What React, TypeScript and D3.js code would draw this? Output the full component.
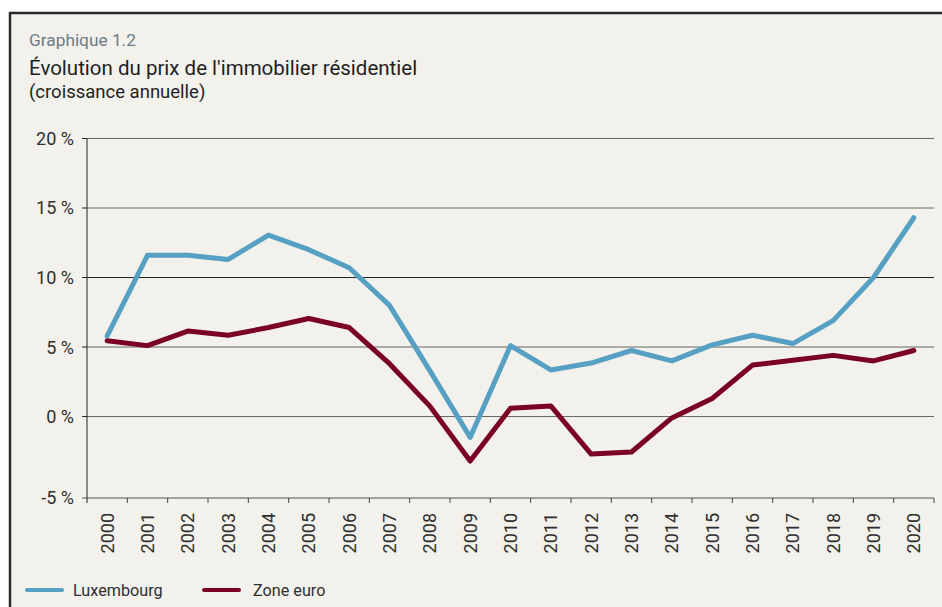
import React from "react";
import * as d3 from "d3";

const years = ["2000","2001","2002","2003","2004","2005","2006","2007","2008","2009","2010","2011","2012","2013","2014","2015","2016","2017","2018","2019","2020"];
const luxembourg = [5.8, 11.6, 11.6, 11.3, 13.05, 12.0, 10.7, 8.0, 3.3, -1.5, 5.1, 3.35, 3.85, 4.75, 4.0, 5.15, 5.85, 5.25, 6.9, 10.0, 14.3];
const zoneEuro = [5.45, 5.1, 6.15, 5.85, 6.4, 7.05, 6.4, 3.8, 0.75, -3.2, 0.6, 0.76, -2.7, -2.55, -0.1, 1.3, 3.7, 4.05, 4.4, 4.0, 4.75];
const yTicks = [20, 15, 10, 5, 0];
const yMinLabel = -5;
const seriesNames = ["Luxembourg", "Zone euro"];
const seriesColors = ["#56a0c3", "#7b0025"];

const W = 942, H = 607;
const FONT = "Roboto, 'DejaVu Sans', sans-serif";

export default function App() {
  const left = 87, right = 934, top = 138.5, bottom = 498;
  const x = d3.scaleBand<string>().domain(years).range([left, right]).paddingInner(0).paddingOuter(0);
  const y = d3.scaleLinear().domain([-5.86, 20]).range([bottom, top]);
  const cx = (i: number) => (x(years[i]) as number) + x.bandwidth() / 2;
  const line = d3.line<number>().x((_, i) => cx(i)).y((d) => y(d));
  const series = [luxembourg, zoneEuro];
  const legendPos = [{ lx: 27, tx: 73 }, { lx: 204, tx: 253 }];

  return (
    <svg width={W} height={H} style={{ position: "absolute", left: 0, top: 0 }} fontFamily={FONT}>
      <rect x={0} y={0} width={W} height={H} fill="#ffffff" />
      <rect x={10} y={13} width={W - 10} height={H - 13} fill="#f2f1eb" />
      <line x1={9} x2={W} y1={13} y2={13} stroke="#2a2a2a" strokeWidth={2.5} />
      <line x1={10} x2={10} y1={12} y2={H} stroke="#2a2a2a" strokeWidth={2.5} />

      <text x={29} y={46} fontSize={17.3} fill="#6e7b86">Graphique 1.2</text>
      <text x={29} y={75} fontSize={20.5} fill="#1f1f1f">Évolution du prix de l'immobilier résidentiel</text>
      <text x={29} y={98} fontSize={18.5} fill="#1f1f1f">(croissance annuelle)</text>

      {yTicks.map((t) => (
        <g key={t}>
          <line x1={left} x2={right} y1={y(t)} y2={y(t)} stroke={t === 10 ? "#222" : "#666"} strokeWidth={1} />
          <line x1={left - 5} x2={left} y1={y(t)} y2={y(t)} stroke="#222" />
          <text x={74} y={y(t)} dy="0.36em" textAnchor="end" fontSize={18} fill="#2e2e2e">{`${t} %`}</text>
        </g>
      ))}
      <text x={74} y={bottom} dy="0.36em" textAnchor="end" fontSize={18} fill="#2e2e2e">{`${yMinLabel} %`}</text>
      <line x1={left - 5} x2={right} y1={bottom} y2={bottom} stroke="#555" strokeWidth={1} />
      <line x1={left} x2={left} y1={top} y2={bottom + 5} stroke="#222" strokeWidth={1} />
      {years.map((yr, i) => (
        <g key={yr}>
          <line x1={(x(yr) as number) + x.bandwidth()} x2={(x(yr) as number) + x.bandwidth()} y1={bottom} y2={bottom + 5} stroke="#444" />
          <text transform={`translate(${cx(i) + 6.5},${513}) rotate(-90)`} textAnchor="end" fontSize={18} fill="#2e2e2e">{yr}</text>
        </g>
      ))}

      {series.map((s, k) => (
        <path key={k} d={line(s) as string} fill="none" stroke={seriesColors[k]} strokeWidth={5} strokeLinejoin="round" strokeLinecap="round" />
      ))}

      {seriesNames.map((n, k) => {
        const { lx, tx } = legendPos[k];
        return (
          <g key={n}>
            <line x1={lx} x2={lx + 35} y1={590} y2={590} stroke={seriesColors[k]} strokeWidth={4} strokeLinecap="round" />
            <text x={tx} y={590} dy="0.36em" fontSize={16.2} fill="#2e2e2e">{n}</text>
          </g>
        );
      })}
    </svg>
  );
}
